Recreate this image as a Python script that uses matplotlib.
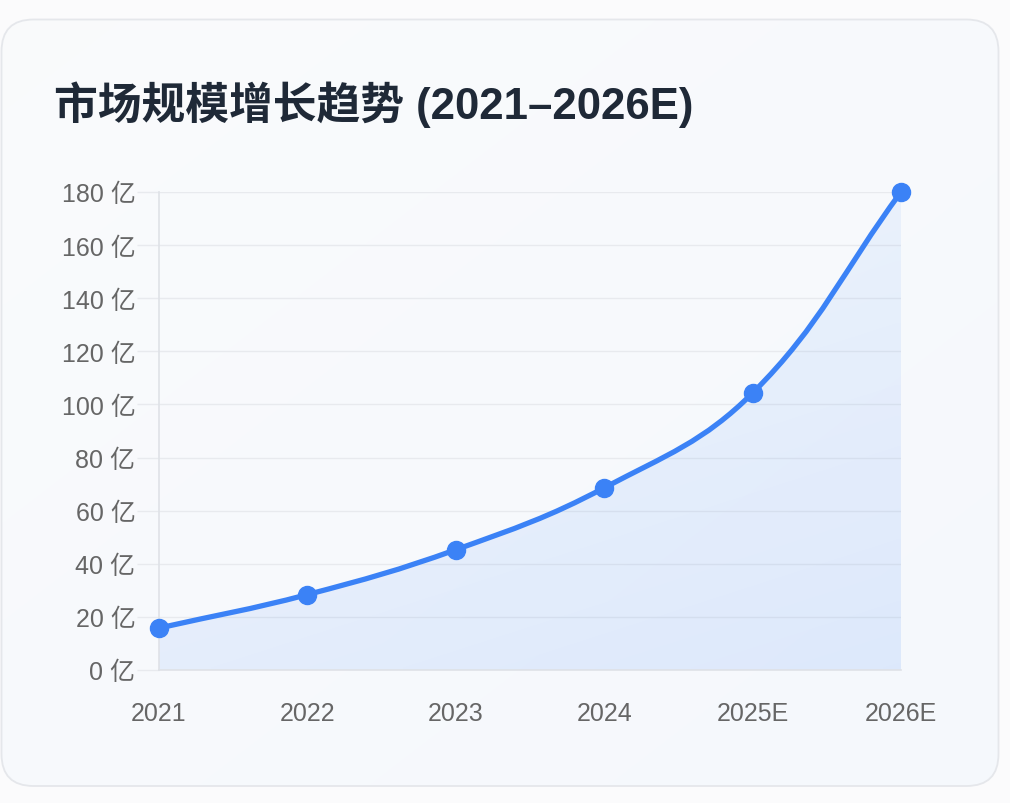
import numpy as np
import matplotlib
matplotlib.use("Agg")
import matplotlib.pyplot as plt
from matplotlib.patches import FancyBboxPatch, PathPatch
from matplotlib.path import Path

# ---- data ----
years = ["2021", "2022", "2023", "2024", "2025E", "2026E"]
market_size = [15.8, 28.4, 45.3, 68.6, 104.3, 180.0]
y_ticks = [0, 20, 40, 60, 80, 100, 120, 140, 160, 180]
y_tick_labels = [f"{v} 亿" for v in y_ticks]
title = "市场规模增长趋势 (2021–2026E)"

FONTS = ["Liberation Sans", "Noto Sans CJK SC", "DejaVu Sans"]
plt.rcParams["font.family"] = FONTS

W, H = 1010, 804
fig = plt.figure(figsize=(W / 100, H / 100), dpi=100)
fig.patch.set_facecolor("#fbfbfc")

# background / card layer in pixel coords
bg = fig.add_axes([0, 0, 1, 1])
bg.set_xlim(0, W)
bg.set_ylim(H, 0)
bg.axis("off")
card_x0, card_y0, card_x1, card_y1 = 1.5, 20.5, 998.5, 787
card = FancyBboxPatch((card_x0, card_y0), card_x1 - card_x0, card_y1 - card_y0,
                      boxstyle="round,pad=0,rounding_size=32",
                      facecolor="none", edgecolor="#e5e7eb", linewidth=1.3, zorder=3)
bg.add_patch(card)
# gradient fill for card
gx = np.linspace(0, 1, 200)
gy = np.linspace(0, 1, 200)
GX, GY = np.meshgrid(gx, gy)
t = (GX + GY) / 2
c0 = np.array([0.980, 0.984, 0.988])
c1 = np.array([0.961, 0.973, 0.992])
img = c0[None, None, :] * (1 - t[..., None]) + c1[None, None, :] * t[..., None]
im = bg.imshow(img, extent=(card_x0, card_x1, card_y1, card_y0), aspect="auto",
               zorder=1, interpolation="bilinear")
clip_card = FancyBboxPatch((card_x0, card_y0), card_x1 - card_x0, card_y1 - card_y0,
                           boxstyle="round,pad=0,rounding_size=32",
                           facecolor="none", edgecolor="none", transform=bg.transData)
bg.add_patch(clip_card)
im.set_clip_path(clip_card)

fig.text(54 / W, 1 - 105 / H, title, fontsize=31.5, fontweight="bold",
         color="#1f2937", ha="left", va="center", family=FONTS)

# ---- chart axes ----
x_left, x_right, y_top, y_bot = 159, 901, 193, 671
ax = fig.add_axes([x_left / W, 1 - y_bot / H, (x_right - x_left) / W, (y_bot - y_top) / H])
ax.set_facecolor("none")
xs = np.arange(len(years))
ax.set_xlim(0, len(years) - 1)
ax.set_ylim(0, 180)

ax.set_yticks(y_ticks)
ax.set_yticklabels(y_tick_labels)
ax.set_xticks(xs)
ax.set_xticklabels(years)
ax.tick_params(axis="y", length=16, width=1, color="#e8eaee", pad=1,
               labelsize=18, labelcolor="#666666")
ax.tick_params(axis="x", length=0, pad=22, labelsize=18, labelcolor="#666666")
ax.grid(axis="y", color="#e8eaee", linewidth=1)
ax.grid(axis="x", visible=False)
for s in ["top", "right"]:
    ax.spines[s].set_visible(False)
ax.spines["left"].set_color("#dfe2e7")
ax.spines["bottom"].set_color("#dfe2e7")
ax.spines["left"].set_linewidth(1.2)
ax.spines["bottom"].set_linewidth(1.2)
ax.set_axisbelow(True)

# ---- Chart.js style spline (tension 0.4) computed in display space ----
tension = 0.4
pts = ax.transData.transform(np.column_stack([xs, market_size]).astype(float))
n = len(pts)
cp_prev = np.zeros_like(pts)
cp_next = np.zeros_like(pts)
for i in range(n):
    p1 = pts[i]
    p0 = pts[i - 1] if i > 0 else p1
    p2 = pts[i + 1] if i < n - 1 else p1
    d01 = np.hypot(*(p1 - p0))
    d12 = np.hypot(*(p2 - p1))
    tot = d01 + d12
    s01 = d01 / tot if tot else 0
    s12 = d12 / tot if tot else 0
    fa = tension * s01
    fb = tension * s12
    cp_prev[i] = p1 - fa * (p2 - p0)
    cp_next[i] = p1 + fb * (p2 - p0)

verts = [pts[0]]
codes = [Path.MOVETO]
for i in range(n - 1):
    verts += [cp_next[i], cp_prev[i + 1], pts[i + 1]]
    codes += [Path.CURVE4] * 3
inv = ax.transData.inverted()
verts_data = inv.transform(np.array(verts))

line_path = Path(verts_data, codes)
line_patch = PathPatch(line_path, facecolor="none", edgecolor="#3b82f6",
                       linewidth=3.8, capstyle="round", joinstyle="round", zorder=4)
ax.add_patch(line_patch)

# area fill under the curve
fill_verts = list(verts_data) + [[xs[-1], 0], [xs[0], 0], verts_data[0]]
fill_codes = codes + [Path.LINETO, Path.LINETO, Path.CLOSEPOLY]
fill_path = Path(np.array(fill_verts), fill_codes)
fill_patch = PathPatch(fill_path, facecolor="none", edgecolor="none", zorder=2)
ax.add_patch(fill_patch)
fy = np.linspace(0, 1, 100)[:, None]
fxg = np.linspace(0, 1, 100)[None, :]
alpha = 0.04 + 0.06 * fy + 0.03 * fxg
rgba = np.zeros((100, 100, 4))
rgba[..., 0] = 0.231
rgba[..., 1] = 0.510
rgba[..., 2] = 0.965
rgba[..., 3] = alpha
fim = ax.imshow(rgba, extent=(0, len(years) - 1, 0, 180), origin="upper",
                aspect="auto", zorder=2, interpolation="bilinear")
fim.set_clip_path(fill_patch)

ax.plot(xs, market_size, linestyle="none", marker="o", markersize=13,
        color="#3b82f6", zorder=5, clip_on=False)

fig.savefig("out.png", dpi=100)
